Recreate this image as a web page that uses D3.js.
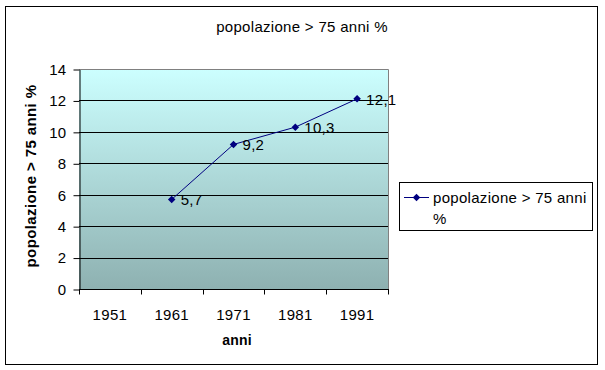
<!DOCTYPE html>
<html>
<head>
<meta charset="utf-8">
<script src="https://cdn.jsdelivr.net/npm/d3@7"></script>
<style>
    body { margin: 0; background: #fff; }
    text { font-family: "Liberation Sans", Arial, sans-serif; }
</style>
</head>
<body>
<div id="container"></div>
<script>
const years = ["1951", "1961", "1971", "1981", "1991"]
const values = [null, 5.7, 9.2, 10.3, 12.1]
const labels = ["", "5,7", "9,2", "10,3", "12,1"]
const yTicks = [0, 2, 4, 6, 8, 10, 12, 14]
const seriesName = "popolazione > 75 anni %"

const width = 605, height = 370
const plot = { left: 79, right: 388, top: 69, bottom: 289 }
const fontSize = 15
const spacing = "0.3px"

const svg = d3.select("#container").append("svg")
    .attr("width", width)
    .attr("height", height)

// outer frame
svg.append("rect")
    .attr("x", 5.5).attr("y", 6.5)
    .attr("width", 592).attr("height", 358)
    .attr("fill", "#fff").attr("stroke", "#000")

const defs = svg.append("defs")
const grad = defs.append("linearGradient")
    .attr("id", "bg").attr("x1", 0).attr("y1", 0).attr("x2", 0).attr("y2", 1)
grad.append("stop").attr("offset", "0%").attr("stop-color", "#ccffff")
grad.append("stop").attr("offset", "100%").attr("stop-color", "#8eb1b1")

const x = d3.scaleBand().domain(years).range([plot.left, plot.right])
const y = d3.scaleLinear().domain([0, 14]).range([plot.bottom, plot.top])

svg.append("rect")
    .attr("x", plot.left).attr("y", plot.top)
    .attr("width", plot.right - plot.left).attr("height", plot.bottom - plot.top)
    .attr("fill", "url(#bg)")

// gridlines
svg.append("g")
    .selectAll("line")
    .data(yTicks.filter(d => d > 0 && d < 14)).enter()
    .append("line")
    .attr("x1", plot.left).attr("x2", plot.right)
    .attr("y1", d => Math.round(y(d)) + 0.5).attr("y2", d => Math.round(y(d)) + 0.5)
    .attr("stroke", "#000")

// top and right border
svg.append("path")
    .attr("d", `M${plot.left},${plot.top + 0.5}H${plot.right + 0.5}V${plot.bottom}`)
    .attr("fill", "none").attr("stroke", "#808080")

// y axis
const yAxis = svg.append("g")
    .attr("transform", `translate(${plot.left + 0.5},0.5)`)
    .call(d3.axisLeft(y).tickValues(yTicks).tickSize(6).tickPadding(7).tickSizeOuter(0))
yAxis.select(".domain").attr("stroke", "#000")
yAxis.selectAll("line").attr("stroke", "#000")
yAxis.selectAll("text").attr("font-size", fontSize).attr("fill", "#000")
    .attr("font-family", "Liberation Sans, Arial, sans-serif")
    .attr("letter-spacing", spacing)

// x axis with ticks between categories
const xAxis = svg.append("g")
    .attr("transform", `translate(0,${plot.bottom + 0.5})`)
xAxis.append("line")
    .attr("x1", plot.left).attr("x2", plot.right + 1)
    .attr("stroke", "#000")
xAxis.selectAll(".tk")
    .data(years.concat(["end"])).enter()
    .append("line")
    .attr("x1", (d, i) => Math.round(plot.left + i * x.step()) + 0.5)
    .attr("x2", (d, i) => Math.round(plot.left + i * x.step()) + 0.5)
    .attr("y1", 0).attr("y2", 5)
    .attr("stroke", "#000")
xAxis.selectAll("text")
    .data(years).enter()
    .append("text")
    .attr("x", d => x(d) + x.bandwidth() / 2)
    .attr("y", 30)
    .attr("text-anchor", "middle")
    .attr("font-size", fontSize)
    .attr("letter-spacing", spacing)
    .text(d => d)

// axis titles
svg.append("text")
    .attr("x", 237).attr("y", 345)
    .attr("text-anchor", "middle")
    .attr("font-size", 14).attr("font-weight", "bold")
    .attr("letter-spacing", "0.2px")
    .text("anni")

svg.append("text")
    .attr("transform", "translate(36,176) rotate(-90)")
    .attr("text-anchor", "middle")
    .attr("font-size", 15).attr("font-weight", "bold")
    .attr("letter-spacing", "0.4px")
    .text(seriesName)

// title
svg.append("text")
    .attr("x", 302).attr("y", 32)
    .attr("text-anchor", "middle")
    .attr("font-size", fontSize)
    .attr("letter-spacing", spacing)
    .text(seriesName)

// series
const pts = years.map((d, i) => ({ year: d, value: values[i], label: labels[i] }))
    .filter(d => d.value !== null)

const line = d3.line()
    .x(d => x(d.year) + x.bandwidth() / 2)
    .y(d => y(d.value))

svg.append("path")
    .datum(pts)
    .attr("d", line)
    .attr("fill", "none")
    .attr("stroke", "#000080")
    .attr("stroke-width", 1)

const diamond = d3.symbol().type(d3.symbolDiamond2).size(36)

svg.append("g")
    .selectAll("path")
    .data(pts).enter()
    .append("path")
    .attr("transform", d => `translate(${x(d.year) + x.bandwidth() / 2},${y(d.value)})`)
    .attr("d", diamond)
    .attr("fill", "#000080")

svg.append("g")
    .selectAll("text")
    .data(pts).enter()
    .append("text")
    .attr("x", d => x(d.year) + x.bandwidth() / 2 + 9)
    .attr("y", d => y(d.value) + 6)
    .attr("font-size", fontSize)
    .attr("letter-spacing", spacing)
    .text(d => d.label)

// legend
const legend = svg.append("g")
legend.append("rect")
    .attr("x", 399.5).attr("y", 182.5)
    .attr("width", 193).attr("height", 48)
    .attr("fill", "#fff").attr("stroke", "#000")
legend.append("line")
    .attr("x1", 404).attr("x2", 429)
    .attr("y1", 197.5).attr("y2", 197.5)
    .attr("stroke", "#000080")
legend.append("path")
    .attr("transform", "translate(416.5,197.5)")
    .attr("d", diamond)
    .attr("fill", "#000080")
legend.append("text")
    .attr("x", 433).attr("y", 203)
    .attr("font-size", fontSize)
    .attr("letter-spacing", spacing)
    .text("popolazione > 75 anni")
legend.append("text")
    .attr("x", 433).attr("y", 224)
    .attr("font-size", fontSize)
    .attr("letter-spacing", spacing)
    .text("%")
</script>
</body>
</html>
